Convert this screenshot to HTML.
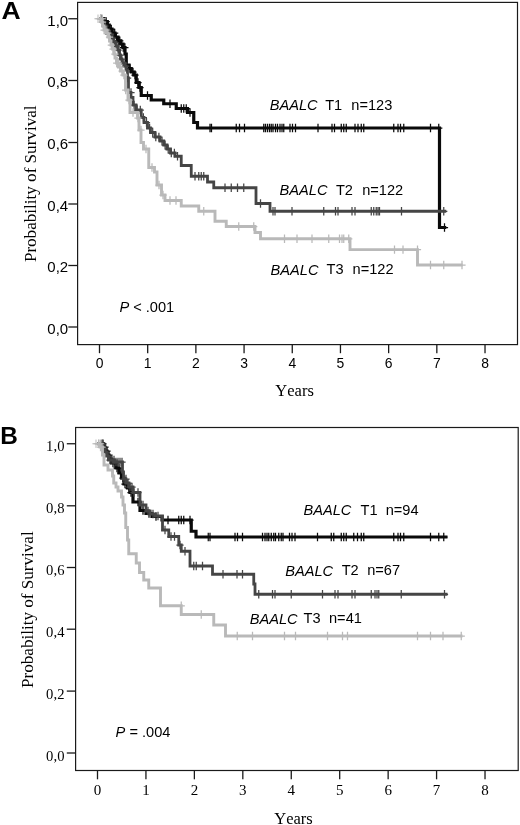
<!DOCTYPE html>
<html><head><meta charset="utf-8"><title>Figure</title>
<style>html,body{margin:0;padding:0;background:#fff;}body{width:520px;height:825px;position:relative;overflow:hidden;font-family:"Liberation Sans",sans-serif;}</style></head>
<body>
<svg width="520" height="825" viewBox="0 0 520 825" style="position:absolute;left:0;top:0;will-change:transform">
<rect width="520" height="825" fill="#fff"/>
<rect x="77.6" y="2.4" width="439.9" height="342.2" fill="none" stroke="#1a1a1a" stroke-width="1.2"/>
<path d="M68.3,18.75H77.5" stroke="#1a1a1a" stroke-width="1.3"/>
<text x="68.2" y="25.55" text-anchor="end" font-family="Liberation Sans, sans-serif" font-size="15" fill="#000">1,0</text>
<path d="M68.3,80.5H77.5" stroke="#1a1a1a" stroke-width="1.3"/>
<text x="68.2" y="87.3" text-anchor="end" font-family="Liberation Sans, sans-serif" font-size="15" fill="#000">0,8</text>
<path d="M68.3,142.5H77.5" stroke="#1a1a1a" stroke-width="1.3"/>
<text x="68.2" y="149.3" text-anchor="end" font-family="Liberation Sans, sans-serif" font-size="15" fill="#000">0,6</text>
<path d="M68.3,204H77.5" stroke="#1a1a1a" stroke-width="1.3"/>
<text x="68.2" y="210.8" text-anchor="end" font-family="Liberation Sans, sans-serif" font-size="15" fill="#000">0,4</text>
<path d="M68.3,265.5H77.5" stroke="#1a1a1a" stroke-width="1.3"/>
<text x="68.2" y="272.3" text-anchor="end" font-family="Liberation Sans, sans-serif" font-size="15" fill="#000">0,2</text>
<path d="M68.3,327H77.5" stroke="#1a1a1a" stroke-width="1.3"/>
<text x="68.2" y="333.8" text-anchor="end" font-family="Liberation Sans, sans-serif" font-size="15" fill="#000">0,0</text>
<path d="M99.50,344.5V353.2" stroke="#1a1a1a" stroke-width="1.3"/>
<text transform="translate(99.50,367.8) scale(0.96,1)" text-anchor="middle" font-family="Liberation Sans, sans-serif" font-size="14.5" fill="#000">0</text>
<path d="M147.69,344.5V353.2" stroke="#1a1a1a" stroke-width="1.3"/>
<text transform="translate(147.69,367.8) scale(0.96,1)" text-anchor="middle" font-family="Liberation Sans, sans-serif" font-size="14.5" fill="#000">1</text>
<path d="M195.88,344.5V353.2" stroke="#1a1a1a" stroke-width="1.3"/>
<text transform="translate(195.88,367.8) scale(0.96,1)" text-anchor="middle" font-family="Liberation Sans, sans-serif" font-size="14.5" fill="#000">2</text>
<path d="M244.07,344.5V353.2" stroke="#1a1a1a" stroke-width="1.3"/>
<text transform="translate(244.07,367.8) scale(0.96,1)" text-anchor="middle" font-family="Liberation Sans, sans-serif" font-size="14.5" fill="#000">3</text>
<path d="M292.26,344.5V353.2" stroke="#1a1a1a" stroke-width="1.3"/>
<text transform="translate(292.26,367.8) scale(0.96,1)" text-anchor="middle" font-family="Liberation Sans, sans-serif" font-size="14.5" fill="#000">4</text>
<path d="M340.45,344.5V353.2" stroke="#1a1a1a" stroke-width="1.3"/>
<text transform="translate(340.45,367.8) scale(0.96,1)" text-anchor="middle" font-family="Liberation Sans, sans-serif" font-size="14.5" fill="#000">5</text>
<path d="M388.64,344.5V353.2" stroke="#1a1a1a" stroke-width="1.3"/>
<text transform="translate(388.64,367.8) scale(0.96,1)" text-anchor="middle" font-family="Liberation Sans, sans-serif" font-size="14.5" fill="#000">6</text>
<path d="M436.83,344.5V353.2" stroke="#1a1a1a" stroke-width="1.3"/>
<text transform="translate(436.83,367.8) scale(0.96,1)" text-anchor="middle" font-family="Liberation Sans, sans-serif" font-size="14.5" fill="#000">7</text>
<path d="M485.02,344.5V353.2" stroke="#1a1a1a" stroke-width="1.3"/>
<text transform="translate(485.02,367.8) scale(0.96,1)" text-anchor="middle" font-family="Liberation Sans, sans-serif" font-size="14.5" fill="#000">8</text>
<text x="294.6" y="395.8" text-anchor="middle" font-family="Liberation Serif, serif" font-size="16.5" style="font-kerning:none" fill="#000">Years</text>
<text transform="translate(35.6,183.8) rotate(-90) scale(1,1.01)" text-anchor="middle" font-family="Liberation Serif, serif" font-size="17.1" style="font-kerning:none" fill="#000">Probability of Survival</text>
<text transform="translate(1.4,18.5) scale(1.07,1)" font-family="Liberation Sans, sans-serif" font-size="24.8" font-weight="bold" fill="#000">A</text>
<path d="M99.50,18.75 L104.00,18.75 L104.00,21.50 L107.30,21.50 L107.30,25.00 L109.20,25.00 L109.20,29.20 L112.00,29.20 L112.00,33.00 L115.00,33.00 L115.00,37.00 L118.00,37.00 L118.00,40.80 L120.80,40.80 L120.80,44.00 L123.00,44.00 L123.00,47.50 L125.00,47.50 L125.00,54.00 L126.25,54.00 L126.25,65.00 L129.00,65.00 L129.00,68.50 L131.25,68.50 L131.25,72.00 L134.00,72.00 L134.00,75.00 L136.25,75.00 L136.25,82.50 L139.00,82.50 L139.00,87.50 L141.25,87.50 L141.25,95.50 L151.25,95.50 L151.25,100.00 L163.75,100.00 L163.75,103.75 L176.25,103.75 L176.25,108.50 L187.50,108.50 L187.50,112.50 L193.75,112.50 L193.75,122.50 L197.50,122.50 L197.50,128.00 L439.50,128.00 L439.50,227.50 L446.25,227.50" fill="none" stroke="#0a0a0a" stroke-width="3.2" stroke-linejoin="miter"/>
<path d="M147.50,91.30V99.70M143.90,95.50H151.10M170.00,99.55V107.95M166.40,103.75H173.60M181.25,104.30V112.70M177.65,108.50H184.85M183.75,104.30V112.70M180.15,108.50H187.35M186.25,104.30V112.70M182.65,108.50H189.85M190.00,108.30V116.70M186.40,112.50H193.60M210.00,123.80V132.20M206.40,128.00H213.60M211.50,123.80V132.20M207.90,128.00H215.10M236.25,123.80V132.20M232.65,128.00H239.85M239.50,123.80V132.20M235.90,128.00H243.10M244.50,123.80V132.20M240.90,128.00H248.10M263.75,123.80V132.20M260.15,128.00H267.35M265.50,123.80V132.20M261.90,128.00H269.10M267.50,123.80V132.20M263.90,128.00H271.10M269.50,123.80V132.20M265.90,128.00H273.10M271.25,123.80V132.20M267.65,128.00H274.85M273.00,123.80V132.20M269.40,128.00H276.60M275.50,123.80V132.20M271.90,128.00H279.10M277.50,123.80V132.20M273.90,128.00H281.10M280.00,123.80V132.20M276.40,128.00H283.60M282.00,123.80V132.20M278.40,128.00H285.60M283.75,123.80V132.20M280.15,128.00H287.35M290.00,123.80V132.20M286.40,128.00H293.60M292.50,123.80V132.20M288.90,128.00H296.10M295.50,123.80V132.20M291.90,128.00H299.10M318.00,123.80V132.20M314.40,128.00H321.60M332.00,123.80V132.20M328.40,128.00H335.60M334.50,123.80V132.20M330.90,128.00H338.10M341.25,123.80V132.20M337.65,128.00H344.85M343.75,123.80V132.20M340.15,128.00H347.35M346.25,123.80V132.20M342.65,128.00H349.85M355.00,123.80V132.20M351.40,128.00H358.60M358.00,123.80V132.20M354.40,128.00H361.60M361.25,123.80V132.20M357.65,128.00H364.85M363.75,123.80V132.20M360.15,128.00H367.35M393.75,123.80V132.20M390.15,128.00H397.35M398.00,123.80V132.20M394.40,128.00H401.60M400.50,123.80V132.20M396.90,128.00H404.10M403.75,123.80V132.20M400.15,128.00H407.35M430.50,123.80V132.20M426.90,128.00H434.10M438.75,123.80V132.20M435.15,128.00H442.35M444.50,223.30V231.70M440.90,227.50H448.10M104.50,17.30V25.70M100.90,21.50H108.10M106.20,17.30V25.70M102.60,21.50H109.80M107.90,20.80V29.20M104.30,25.00H111.50M109.60,25.00V33.40M106.00,29.20H113.20M111.30,25.00V33.40M107.70,29.20H114.90M113.00,28.80V37.20M109.40,33.00H116.60M114.70,28.80V37.20M111.10,33.00H118.30M116.40,32.80V41.20M112.80,37.00H120.00M118.10,36.60V45.00M114.50,40.80H121.70M119.80,36.60V45.00M116.20,40.80H123.40M121.50,39.80V48.20M117.90,44.00H125.10M123.20,43.30V51.70M119.60,47.50H126.80M124.90,43.30V51.70M121.30,47.50H128.50M126.60,60.80V69.20M123.00,65.00H130.20M130.00,64.30V72.70M126.40,68.50H133.60M133.00,67.80V76.20M129.40,72.00H136.60M135.00,70.80V79.20M131.40,75.00H138.60M138.00,78.30V86.70M134.40,82.50H141.60M140.00,83.30V91.70M136.40,87.50H143.60" fill="none" stroke="#0a0a0a" stroke-width="1.25"/>

<path d="M99.50,18.75 L102.50,18.75 L102.50,22.00 L104.00,22.00 L104.00,26.00 L106.00,26.00 L106.00,30.00 L108.50,30.00 L108.50,34.00 L111.00,34.00 L111.00,38.00 L113.00,38.00 L113.00,42.00 L115.50,42.00 L115.50,46.00 L118.00,46.00 L118.00,50.00 L119.50,50.00 L119.50,55.00 L120.50,55.00 L120.50,59.00 L122.00,59.00 L122.00,63.00 L124.00,63.00 L124.00,66.00 L126.00,66.00 L126.00,70.00 L127.50,70.00 L127.50,78.00 L128.50,78.00 L128.50,92.50 L131.00,92.50 L131.00,97.50 L133.00,97.50 L133.00,105.00 L136.00,105.00 L136.00,110.00 L141.25,110.00 L141.25,117.50 L144.00,117.50 L144.00,122.50 L147.50,122.50 L147.50,128.00 L150.50,128.00 L150.50,132.50 L155.00,132.50 L155.00,137.00 L160.00,137.00 L160.00,141.00 L163.75,141.00 L163.75,145.00 L167.00,145.00 L167.00,149.00 L170.50,149.00 L170.50,153.00 L175.00,153.00 L175.00,156.25 L181.25,156.25 L181.25,165.50 L191.25,165.50 L191.25,176.25 L207.50,176.25 L207.50,182.00 L213.75,182.00 L213.75,187.75 L256.00,187.75 L256.00,203.50 L270.00,203.50 L270.00,211.25 L446.25,211.25" fill="none" stroke="#454545" stroke-width="2.8" stroke-linejoin="miter"/>
<path d="M195.00,172.05V180.45M191.40,176.25H198.60M198.75,172.05V180.45M195.15,176.25H202.35M201.25,172.05V180.45M197.65,176.25H204.85M203.75,172.05V180.45M200.15,176.25H207.35M225.00,183.55V191.95M221.40,187.75H228.60M231.25,183.55V191.95M227.65,187.75H234.85M237.50,183.55V191.95M233.90,187.75H241.10M243.75,183.55V191.95M240.15,187.75H247.35M260.50,199.30V207.70M256.90,203.50H264.10M273.00,207.05V215.45M269.40,211.25H276.60M275.00,207.05V215.45M271.40,211.25H278.60M292.00,207.05V215.45M288.40,211.25H295.60M323.75,207.05V215.45M320.15,211.25H327.35M335.50,207.05V215.45M331.90,211.25H339.10M338.00,207.05V215.45M334.40,211.25H341.60M352.00,207.05V215.45M348.40,211.25H355.60M355.00,207.05V215.45M351.40,211.25H358.60M371.25,207.05V215.45M367.65,211.25H374.85M373.75,207.05V215.45M370.15,211.25H377.35M376.25,207.05V215.45M372.65,211.25H379.85M378.00,207.05V215.45M374.40,211.25H381.60M379.50,207.05V215.45M375.90,211.25H383.10M401.50,207.05V215.45M397.90,211.25H405.10M443.75,207.05V215.45M440.15,211.25H447.35M101.00,14.55V22.95M97.40,18.75H104.60M102.90,17.80V26.20M99.30,22.00H106.50M104.80,21.80V30.20M101.20,26.00H108.40M106.70,25.80V34.20M103.10,30.00H110.30M108.60,29.80V38.20M105.00,34.00H112.20M110.50,29.80V38.20M106.90,34.00H114.10M112.40,33.80V42.20M108.80,38.00H116.00M114.30,37.80V46.20M110.70,42.00H117.90M116.20,41.80V50.20M112.60,46.00H119.80M118.10,45.80V54.20M114.50,50.00H121.70M120.00,50.80V59.20M116.40,55.00H123.60M121.90,54.80V63.20M118.30,59.00H125.50M123.80,58.80V67.20M120.20,63.00H127.40M125.70,61.80V70.20M122.10,66.00H129.30M127.60,73.80V82.20M124.00,78.00H131.20M131.00,88.30V96.70M127.40,92.50H134.60M134.10,100.80V109.20M130.50,105.00H137.70M137.20,105.80V114.20M133.60,110.00H140.80M140.30,105.80V114.20M136.70,110.00H143.90M143.40,113.30V121.70M139.80,117.50H147.00M146.50,118.30V126.70M142.90,122.50H150.10M149.60,123.80V132.20M146.00,128.00H153.20M152.70,128.30V136.70M149.10,132.50H156.30M155.80,132.80V141.20M152.20,137.00H159.40M158.90,132.80V141.20M155.30,137.00H162.50M162.00,136.80V145.20M158.40,141.00H165.60M165.10,140.80V149.20M161.50,145.00H168.70M168.20,144.80V153.20M164.60,149.00H171.80M171.30,148.80V157.20M167.70,153.00H174.90M174.40,148.80V157.20M170.80,153.00H178.00M177.50,152.05V160.45M173.90,156.25H181.10" fill="none" stroke="#454545" stroke-width="1.25"/>

<path d="M99.50,18.75 L101.50,18.75 L101.50,22.00 L102.50,22.00 L102.50,26.00 L104.00,26.00 L104.00,30.00 L106.00,30.00 L106.00,33.00 L108.00,33.00 L108.00,37.00 L109.50,37.00 L109.50,41.00 L111.00,41.00 L111.00,45.00 L112.50,45.00 L112.50,49.00 L114.00,49.00 L114.00,54.00 L115.00,54.00 L115.00,58.00 L116.50,58.00 L116.50,63.00 L118.50,63.00 L118.50,67.00 L120.50,67.00 L120.50,71.00 L123.00,71.00 L123.00,75.00 L125.50,75.00 L125.50,90.00 L128.00,90.00 L128.00,100.00 L130.00,100.00 L130.00,112.50 L137.50,112.50 L137.50,118.00 L139.00,118.00 L139.00,130.00 L141.00,130.00 L141.00,142.50 L143.50,142.50 L143.50,149.00 L148.75,149.00 L148.75,167.50 L154.50,167.50 L154.50,172.00 L157.00,172.00 L157.00,185.00 L161.50,185.00 L161.50,195.00 L165.00,195.00 L165.00,200.50 L181.25,200.50 L181.25,206.00 L198.75,206.00 L198.75,211.25 L215.00,211.25 L215.00,221.25 L226.25,221.25 L226.25,226.50 L255.00,226.50 L255.00,232.50 L260.50,232.50 L260.50,238.75 L350.00,238.75 L350.00,249.60 L417.50,249.60 L417.50,265.00 L462.50,265.00" fill="none" stroke="#b9b9b9" stroke-width="2.9" stroke-linejoin="miter"/>
<path d="M203.75,207.05V215.45M200.15,211.25H207.35M238.75,222.30V230.70M235.15,226.50H242.35M253.75,222.30V230.70M250.15,226.50H257.35M284.50,234.55V242.95M280.90,238.75H288.10M297.00,234.55V242.95M293.40,238.75H300.60M312.00,234.55V242.95M308.40,238.75H315.60M328.75,234.55V242.95M325.15,238.75H332.35M339.50,234.55V242.95M335.90,238.75H343.10M342.00,234.55V242.95M338.40,238.75H345.60M343.75,234.55V242.95M340.15,238.75H347.35M348.75,234.55V242.95M345.15,238.75H352.35M394.50,245.40V253.80M390.90,249.60H398.10M403.00,245.40V253.80M399.40,249.60H406.60M417.50,245.40V253.80M413.90,249.60H421.10M430.50,260.80V269.20M426.90,265.00H434.10M443.75,260.80V269.20M440.15,265.00H447.35M462.00,260.80V269.20M458.40,265.00H465.60M100.50,14.55V22.95M96.90,18.75H104.10M102.30,17.80V26.20M98.70,22.00H105.90M104.10,25.80V34.20M100.50,30.00H107.70M105.90,25.80V34.20M102.30,30.00H109.50M107.70,28.80V37.20M104.10,33.00H111.30M109.50,32.80V41.20M105.90,37.00H113.10M111.30,40.80V49.20M107.70,45.00H114.90M113.10,44.80V53.20M109.50,49.00H116.70M114.90,49.80V58.20M111.30,54.00H118.50M116.70,58.80V67.20M113.10,63.00H120.30M118.50,58.80V67.20M114.90,63.00H122.10M120.30,62.80V71.20M116.70,67.00H123.90M122.10,66.80V75.20M118.50,71.00H125.70M123.90,70.80V79.20M120.30,75.00H127.50M125.70,85.80V94.20M122.10,90.00H129.30M129.00,95.80V104.20M125.40,100.00H132.60M133.00,108.30V116.70M129.40,112.50H136.60M138.00,113.80V122.20M134.40,118.00H141.60M141.00,125.80V134.20M137.40,130.00H144.60M146.00,144.80V153.20M142.40,149.00H149.60M152.00,163.30V171.70M148.40,167.50H155.60M159.00,180.80V189.20M155.40,185.00H162.60M163.00,190.80V199.20M159.40,195.00H166.60M170.00,196.30V204.70M166.40,200.50H173.60M176.00,196.30V204.70M172.40,200.50H179.60" fill="none" stroke="#b9b9b9" stroke-width="1.25"/>

<path d="M98.00,14.55V22.95M94.40,18.75H101.60M100.50,14.55V22.95M96.90,18.75H104.10M102.50,14.55V22.95M98.90,18.75H106.10M95.5,18.75H104.5" fill="none" stroke="#b9b9b9" stroke-width="1"/>

<text x="269.8" y="110.4" font-family="Liberation Sans, sans-serif" font-size="14.6" fill="#000" font-style="italic">BAALC</text><text x="325.2" y="109.60000000000001" font-family="Liberation Sans, sans-serif" font-size="14.6" fill="#000">T1</text><text x="351.3" y="109.60000000000001" font-family="Liberation Sans, sans-serif" font-size="14.6" fill="#000">n=123</text>
<text x="279.6" y="195.4" font-family="Liberation Sans, sans-serif" font-size="14.6" fill="#000" font-style="italic">BAALC</text><text x="335.90000000000003" y="194.6" font-family="Liberation Sans, sans-serif" font-size="14.6" fill="#000">T2</text><text x="362.20000000000005" y="194.6" font-family="Liberation Sans, sans-serif" font-size="14.6" fill="#000">n=122</text>
<text x="270.6" y="274.8" font-family="Liberation Sans, sans-serif" font-size="14.6" fill="#000" font-style="italic">BAALC</text><text x="326.6" y="274.0" font-family="Liberation Sans, sans-serif" font-size="14.6" fill="#000">T3</text><text x="352.6" y="274.0" font-family="Liberation Sans, sans-serif" font-size="14.6" fill="#000">n=122</text>
<text x="119.4" y="312.3" font-family="Liberation Sans, sans-serif" font-size="14.6" fill="#000"><tspan font-style="italic">P</tspan> &lt; .001</text>
<rect x="75.6" y="427.5" width="442.6" height="343" fill="none" stroke="#1a1a1a" stroke-width="1.2"/>
<path d="M66.8,443.75H75.5" stroke="#1a1a1a" stroke-width="1.3"/>
<text x="64.9" y="451.35" text-anchor="end" font-family="Liberation Serif, serif" font-size="14.6" letter-spacing="0.25" fill="#000">1,0</text>
<path d="M66.8,505.8H75.5" stroke="#1a1a1a" stroke-width="1.3"/>
<text x="64.9" y="513.4" text-anchor="end" font-family="Liberation Serif, serif" font-size="14.6" letter-spacing="0.25" fill="#000">0,8</text>
<path d="M66.8,567.5H75.5" stroke="#1a1a1a" stroke-width="1.3"/>
<text x="64.9" y="575.1" text-anchor="end" font-family="Liberation Serif, serif" font-size="14.6" letter-spacing="0.25" fill="#000">0,6</text>
<path d="M66.8,629.2H75.5" stroke="#1a1a1a" stroke-width="1.3"/>
<text x="64.9" y="636.8000000000001" text-anchor="end" font-family="Liberation Serif, serif" font-size="14.6" letter-spacing="0.25" fill="#000">0,4</text>
<path d="M66.8,691.1H75.5" stroke="#1a1a1a" stroke-width="1.3"/>
<text x="64.9" y="698.7" text-anchor="end" font-family="Liberation Serif, serif" font-size="14.6" letter-spacing="0.25" fill="#000">0,2</text>
<path d="M66.8,753.0H75.5" stroke="#1a1a1a" stroke-width="1.3"/>
<text x="64.9" y="760.6" text-anchor="end" font-family="Liberation Serif, serif" font-size="14.6" letter-spacing="0.25" fill="#000">0,0</text>
<path d="M97.50,770.5V779.3" stroke="#1a1a1a" stroke-width="1.3"/>
<text x="97.50" y="795.2" text-anchor="middle" font-family="Liberation Serif, serif" font-size="15" fill="#000">0</text>
<path d="M145.94,770.5V779.3" stroke="#1a1a1a" stroke-width="1.3"/>
<text x="145.94" y="795.2" text-anchor="middle" font-family="Liberation Serif, serif" font-size="15" fill="#000">1</text>
<path d="M194.38,770.5V779.3" stroke="#1a1a1a" stroke-width="1.3"/>
<text x="194.38" y="795.2" text-anchor="middle" font-family="Liberation Serif, serif" font-size="15" fill="#000">2</text>
<path d="M242.82,770.5V779.3" stroke="#1a1a1a" stroke-width="1.3"/>
<text x="242.82" y="795.2" text-anchor="middle" font-family="Liberation Serif, serif" font-size="15" fill="#000">3</text>
<path d="M291.26,770.5V779.3" stroke="#1a1a1a" stroke-width="1.3"/>
<text x="291.26" y="795.2" text-anchor="middle" font-family="Liberation Serif, serif" font-size="15" fill="#000">4</text>
<path d="M339.70,770.5V779.3" stroke="#1a1a1a" stroke-width="1.3"/>
<text x="339.70" y="795.2" text-anchor="middle" font-family="Liberation Serif, serif" font-size="15" fill="#000">5</text>
<path d="M388.14,770.5V779.3" stroke="#1a1a1a" stroke-width="1.3"/>
<text x="388.14" y="795.2" text-anchor="middle" font-family="Liberation Serif, serif" font-size="15" fill="#000">6</text>
<path d="M436.58,770.5V779.3" stroke="#1a1a1a" stroke-width="1.3"/>
<text x="436.58" y="795.2" text-anchor="middle" font-family="Liberation Serif, serif" font-size="15" fill="#000">7</text>
<path d="M485.02,770.5V779.3" stroke="#1a1a1a" stroke-width="1.3"/>
<text x="485.02" y="795.2" text-anchor="middle" font-family="Liberation Serif, serif" font-size="15" fill="#000">8</text>
<text x="293.5" y="823.7" text-anchor="middle" font-family="Liberation Serif, serif" font-size="16.5" style="font-kerning:none" fill="#000">Years</text>
<text transform="translate(33.4,609.6) rotate(-90) scale(1,1.01)" text-anchor="middle" font-family="Liberation Serif, serif" font-size="17.1" style="font-kerning:none" fill="#000">Probability of Survival</text>
<text transform="translate(0.2,444.3) scale(1.05,1)" font-family="Liberation Sans, sans-serif" font-size="23.2" font-weight="bold" fill="#000">B</text>
<path d="M97.50,443.75 L103.50,443.75 L103.50,447.00 L105.00,447.00 L105.00,451.00 L107.00,451.00 L107.00,455.00 L109.00,455.00 L109.00,459.00 L111.50,459.00 L111.50,463.00 L116.00,463.00 L116.00,468.00 L119.00,468.00 L119.00,473.00 L121.50,473.00 L121.50,478.00 L124.00,478.00 L124.00,484.00 L127.50,484.00 L127.50,488.00 L130.00,488.00 L130.00,492.50 L133.00,492.50 L133.00,502.00 L140.00,502.00 L140.00,510.50 L146.00,510.50 L146.00,513.50 L152.00,513.50 L152.00,516.50 L162.00,516.50 L162.00,520.00 L191.25,520.00 L191.25,531.25 L196.00,531.25 L196.00,537.00 L447.50,537.00" fill="none" stroke="#0a0a0a" stroke-width="3.2" stroke-linejoin="miter"/>
<path d="M168.00,515.80V524.20M164.40,520.00H171.60M178.75,515.80V524.20M175.15,520.00H182.35M181.25,515.80V524.20M177.65,520.00H184.85M183.75,515.80V524.20M180.15,520.00H187.35M190.00,515.80V524.20M186.40,520.00H193.60M208.25,532.80V541.20M204.65,537.00H211.85M210.00,532.80V541.20M206.40,537.00H213.60M235.00,532.80V541.20M231.40,537.00H238.60M237.50,532.80V541.20M233.90,537.00H241.10M242.50,532.80V541.20M238.90,537.00H246.10M262.50,532.80V541.20M258.90,537.00H266.10M265.00,532.80V541.20M261.40,537.00H268.60M267.00,532.80V541.20M263.40,537.00H270.60M268.75,532.80V541.20M265.15,537.00H272.35M271.25,532.80V541.20M267.65,537.00H274.85M273.75,532.80V541.20M270.15,537.00H277.35M275.50,532.80V541.20M271.90,537.00H279.10M278.75,532.80V541.20M275.15,537.00H282.35M281.25,532.80V541.20M277.65,537.00H284.85M283.00,532.80V541.20M279.40,537.00H286.60M289.50,532.80V541.20M285.90,537.00H293.10M292.00,532.80V541.20M288.40,537.00H295.60M295.00,532.80V541.20M291.40,537.00H298.60M317.50,532.80V541.20M313.90,537.00H321.10M331.25,532.80V541.20M327.65,537.00H334.85M333.75,532.80V541.20M330.15,537.00H337.35M341.25,532.80V541.20M337.65,537.00H344.85M343.75,532.80V541.20M340.15,537.00H347.35M346.25,532.80V541.20M342.65,537.00H349.85M353.75,532.80V541.20M350.15,537.00H357.35M357.50,532.80V541.20M353.90,537.00H361.10M361.25,532.80V541.20M357.65,537.00H364.85M363.75,532.80V541.20M360.15,537.00H367.35M393.75,532.80V541.20M390.15,537.00H397.35M398.00,532.80V541.20M394.40,537.00H401.60M400.50,532.80V541.20M396.90,537.00H404.10M403.75,532.80V541.20M400.15,537.00H407.35M430.50,532.80V541.20M426.90,537.00H434.10M438.75,532.80V541.20M435.15,537.00H442.35M443.75,532.80V541.20M440.15,537.00H447.35M103.00,439.55V447.95M99.40,443.75H106.60M105.00,442.80V451.20M101.40,447.00H108.60M107.00,446.80V455.20M103.40,451.00H110.60M109.00,450.80V459.20M105.40,455.00H112.60M111.00,454.80V463.20M107.40,459.00H114.60M113.00,458.80V467.20M109.40,463.00H116.60M115.00,458.80V467.20M111.40,463.00H118.60M117.00,463.80V472.20M113.40,468.00H120.60M119.00,463.80V472.20M115.40,468.00H122.60M121.00,468.80V477.20M117.40,473.00H124.60M123.00,473.80V482.20M119.40,478.00H126.60M125.00,479.80V488.20M121.40,484.00H128.60M127.00,479.80V488.20M123.40,484.00H130.60M129.00,483.80V492.20M125.40,488.00H132.60M131.00,488.30V496.70M127.40,492.50H134.60M133.00,488.30V496.70M129.40,492.50H136.60M138.00,497.80V506.20M134.40,502.00H141.60M143.00,506.30V514.70M139.40,510.50H146.60M149.00,509.30V517.70M145.40,513.50H152.60M156.00,512.30V520.70M152.40,516.50H159.60" fill="none" stroke="#0a0a0a" stroke-width="1.25"/>

<path d="M97.50,443.75 L102.50,443.75 L102.50,448.00 L104.50,448.00 L104.50,452.00 L106.50,452.00 L106.50,456.00 L108.50,456.00 L108.50,460.00 L114.00,460.00 L114.00,462.00 L122.50,462.00 L122.50,472.00 L123.50,472.00 L123.50,479.00 L126.00,479.00 L126.00,483.00 L129.00,483.00 L129.00,487.00 L133.00,487.00 L133.00,492.50 L140.00,492.50 L140.00,505.00 L146.00,505.00 L146.00,511.00 L150.00,511.00 L150.00,514.00 L155.00,514.00 L155.00,516.00 L162.50,516.00 L162.50,530.00 L168.75,530.00 L168.75,536.50 L178.75,536.50 L178.75,545.00 L181.25,545.00 L181.25,551.25 L190.00,551.25 L190.00,566.00 L212.50,566.00 L212.50,574.25 L253.75,574.25 L253.75,584.00 L255.00,584.00 L255.00,594.25 L447.50,594.25" fill="none" stroke="#454545" stroke-width="2.8" stroke-linejoin="miter"/>
<path d="M174.50,532.30V540.70M170.90,536.50H178.10M193.75,561.80V570.20M190.15,566.00H197.35M196.25,561.80V570.20M192.65,566.00H199.85M202.50,561.80V570.20M198.90,566.00H206.10M223.00,570.05V578.45M219.40,574.25H226.60M237.00,570.05V578.45M233.40,574.25H240.60M242.50,570.05V578.45M238.90,574.25H246.10M258.75,590.05V598.45M255.15,594.25H262.35M272.50,590.05V598.45M268.90,594.25H276.10M275.00,590.05V598.45M271.40,594.25H278.60M291.25,590.05V598.45M287.65,594.25H294.85M322.50,590.05V598.45M318.90,594.25H326.10M335.00,590.05V598.45M331.40,594.25H338.60M338.00,590.05V598.45M334.40,594.25H341.60M352.00,590.05V598.45M348.40,594.25H355.60M355.00,590.05V598.45M351.40,594.25H358.60M371.25,590.05V598.45M367.65,594.25H374.85M375.00,590.05V598.45M371.40,594.25H378.60M377.00,590.05V598.45M373.40,594.25H380.60M378.75,590.05V598.45M375.15,594.25H382.35M401.25,590.05V598.45M397.65,594.25H404.85M444.50,590.05V598.45M440.90,594.25H448.10M102.00,439.55V447.95M98.40,443.75H105.60M104.00,443.80V452.20M100.40,448.00H107.60M106.00,447.80V456.20M102.40,452.00H109.60M108.00,451.80V460.20M104.40,456.00H111.60M110.00,455.80V464.20M106.40,460.00H113.60M112.00,455.80V464.20M108.40,460.00H115.60M114.00,455.80V464.20M110.40,460.00H117.60M116.00,457.80V466.20M112.40,462.00H119.60M118.00,457.80V466.20M114.40,462.00H121.60M120.00,457.80V466.20M116.40,462.00H123.60M122.00,457.80V466.20M118.40,462.00H125.60M124.00,474.80V483.20M120.40,479.00H127.60M126.00,474.80V483.20M122.40,479.00H129.60M128.00,478.80V487.20M124.40,483.00H131.60M130.00,482.80V491.20M126.40,487.00H133.60M132.00,482.80V491.20M128.40,487.00H135.60M134.00,488.30V496.70M130.40,492.50H137.60M138.00,488.30V496.70M134.40,492.50H141.60M143.00,500.80V509.20M139.40,505.00H146.60M148.00,506.80V515.20M144.40,511.00H151.60M153.00,509.80V518.20M149.40,514.00H156.60M158.00,511.80V520.20M154.40,516.00H161.60M165.00,525.80V534.20M161.40,530.00H168.60M171.00,532.30V540.70M167.40,536.50H174.60M180.00,540.80V549.20M176.40,545.00H183.60M185.00,547.05V555.45M181.40,551.25H188.60" fill="none" stroke="#454545" stroke-width="1.25"/>

<path d="M97.50,443.75 L100.00,443.75 L100.00,447.00 L102.50,447.00 L102.50,455.00 L104.00,455.00 L104.00,465.00 L108.00,465.00 L108.00,470.00 L112.50,470.00 L112.50,476.00 L113.75,476.00 L113.75,483.00 L116.00,483.00 L116.00,487.00 L118.00,487.00 L118.00,491.00 L121.50,491.00 L121.50,497.00 L123.00,497.00 L123.00,505.00 L124.50,505.00 L124.50,513.00 L125.75,513.00 L125.75,527.50 L127.50,527.50 L127.50,540.00 L128.75,540.00 L128.75,553.75 L136.25,553.75 L136.25,563.00 L139.50,563.00 L139.50,572.50 L143.75,572.50 L143.75,580.00 L148.75,580.00 L148.75,588.00 L160.50,588.00 L160.50,605.75 L181.25,605.75 L181.25,614.50 L213.75,614.50 L213.75,625.00 L225.50,625.00 L225.50,636.00 L462.50,636.00" fill="none" stroke="#b9b9b9" stroke-width="2.9" stroke-linejoin="miter"/>
<path d="M181.25,601.55V609.95M177.65,605.75H184.85M201.25,610.30V618.70M197.65,614.50H204.85M237.25,631.80V640.20M233.65,636.00H240.85M252.50,631.80V640.20M248.90,636.00H256.10M284.50,631.80V640.20M280.90,636.00H288.10M295.50,631.80V640.20M291.90,636.00H299.10M327.50,631.80V640.20M323.90,636.00H331.10M342.50,631.80V640.20M338.90,636.00H346.10M347.50,631.80V640.20M343.90,636.00H351.10M417.50,631.80V640.20M413.90,636.00H421.10M430.50,631.80V640.20M426.90,636.00H434.10M443.00,631.80V640.20M439.40,636.00H446.60M461.25,631.80V640.20M457.65,636.00H464.85M99.00,439.55V447.95M95.40,443.75H102.60M100.50,442.80V451.20M96.90,447.00H104.10M102.00,442.80V451.20M98.40,447.00H105.60" fill="none" stroke="#b9b9b9" stroke-width="1.25"/>

<path d="M96.00,439.55V447.95M92.40,443.75H99.60M98.50,439.55V447.95M94.90,443.75H102.10M100.50,439.55V447.95M96.90,443.75H104.10M93.5,443.75H102.5" fill="none" stroke="#b9b9b9" stroke-width="1"/>

<text x="303.5" y="515.4" font-family="Liberation Sans, sans-serif" font-size="14.6" fill="#000" font-style="italic">BAALC</text><text x="360.5" y="514.6" font-family="Liberation Sans, sans-serif" font-size="14.6" fill="#000">T1</text><text x="385.7" y="514.6" font-family="Liberation Sans, sans-serif" font-size="14.6" fill="#000">n=94</text>
<text x="285.2" y="575.8" font-family="Liberation Sans, sans-serif" font-size="14.6" fill="#000" font-style="italic">BAALC</text><text x="341.7" y="575.0" font-family="Liberation Sans, sans-serif" font-size="14.6" fill="#000">T2</text><text x="367.2" y="575.0" font-family="Liberation Sans, sans-serif" font-size="14.6" fill="#000">n=67</text>
<text x="249.7" y="623.6" font-family="Liberation Sans, sans-serif" font-size="14.6" fill="#000" font-style="italic">BAALC</text><text x="303.5" y="622.8000000000001" font-family="Liberation Sans, sans-serif" font-size="14.6" fill="#000">T3</text><text x="329.0" y="622.8000000000001" font-family="Liberation Sans, sans-serif" font-size="14.6" fill="#000">n=41</text>
<text x="115.6" y="736.6" font-family="Liberation Sans, sans-serif" font-size="14.6" fill="#000"><tspan font-style="italic">P</tspan> = .004</text>
</svg>
</body></html>
